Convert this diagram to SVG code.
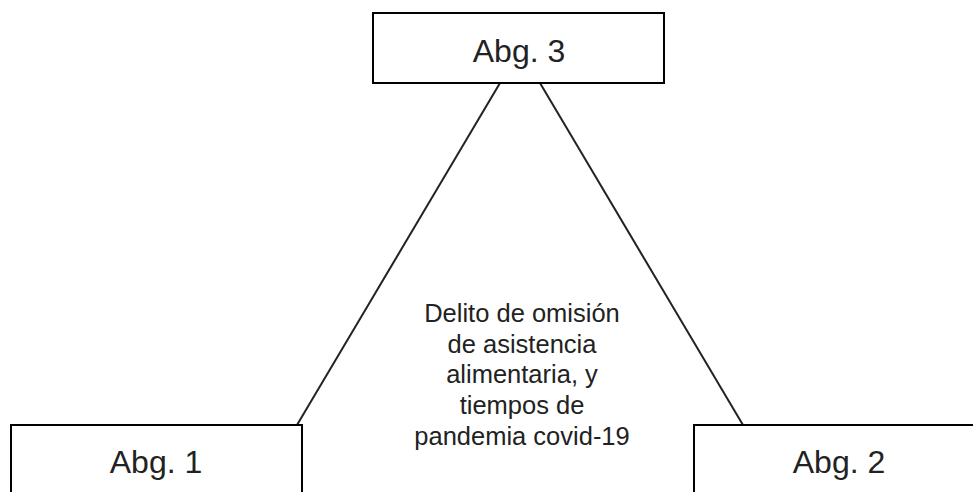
<svg xmlns="http://www.w3.org/2000/svg" width="973" height="492" viewBox="0 0 973 492">
<style>
.box{fill:#fff;stroke:#000;stroke-width:2}
.lbl{font-family:"Liberation Sans",Arial,sans-serif;font-size:32px;fill:#222;text-anchor:middle}
.mid{font-family:"Liberation Sans",Arial,sans-serif;font-size:25.5px;fill:#222;text-anchor:middle}
.con{stroke:#222;stroke-width:2;fill:none}
</style>
<rect width="973" height="492" fill="#fff"/>
<g id="connectors">
<line class="con" x1="500" y1="83" x2="297" y2="425"/>
<line class="con" x1="540" y1="83" x2="743" y2="425"/>
</g>
<g id="abg3">
<rect class="box" x="373" y="13" width="291" height="70"/>
<text class="lbl" x="519" y="62">Abg. 3</text>
</g>
<g id="abg1">
<rect class="box" x="11" y="425" width="291" height="80"/>
<text class="lbl" x="156" y="473">Abg. 1</text>
</g>
<g id="abg2">
<rect class="box" x="694" y="425" width="291" height="80"/>
<text class="lbl" x="839" y="473">Abg. 2</text>
</g>
<g id="center-text">
<text class="mid" x="522" y="322">Delito de omisión</text>
<text class="mid" x="522" y="353">de asistencia</text>
<text class="mid" x="522" y="383">alimentaria, y</text>
<text class="mid" x="522" y="414">tiempos de</text>
<text class="mid" x="522" y="445">pandemia covid-19</text>
</g>
</svg>
